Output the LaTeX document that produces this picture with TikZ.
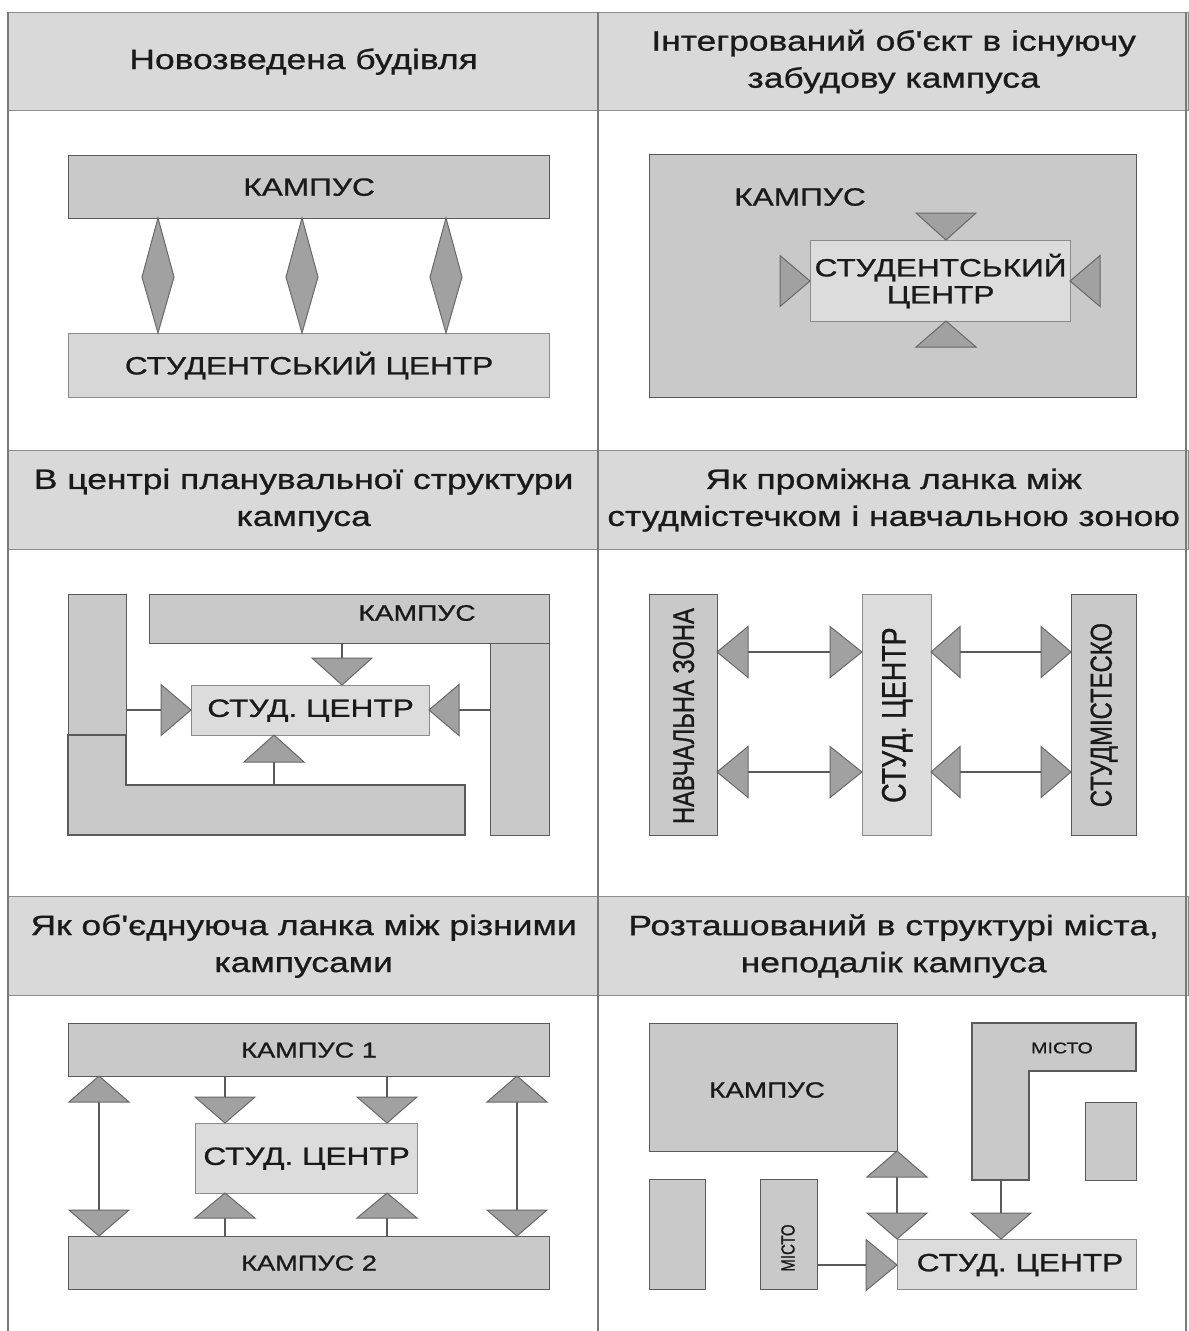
\documentclass[tikz,border=0pt]{standalone}
\usepackage{fontspec}
\setmainfont{Liberation Sans}[FakeStretch=1.265, FakeBold=0.9, Ligatures=TeXOff]
\newfontfamily\rotf{Liberation Sans}[FakeStretch=0.79, FakeBold=0.9]
\usetikzlibrary{calc}
\definecolor{hdrfill}{HTML}{D9D9D9}
\definecolor{hdrline}{HTML}{8C8C8C}
\definecolor{boxfill}{HTML}{C9C9C9}
\definecolor{lightfill}{HTML}{DCDCDC}
\definecolor{boxline}{HTML}{5A5A5A}
\definecolor{trifill}{HTML}{A1A1A1}
\definecolor{triline}{HTML}{686868}
\definecolor{gridline}{HTML}{7A7A7A}
\definecolor{txt}{HTML}{1A1A1A}
\newcommand\myTriV[3]{\draw[tri] (#1-30,#2) -- (#1+30,#2) -- (#1,#3) -- cycle;}
\newcommand\myTriH[3]{\draw[tri] (#2,#1-25.5) -- (#2,#1+25.5) -- (#3,#1) -- cycle;}
\begin{document}
\begin{tikzpicture}[x=1pt,y=-1pt,
  every node/.style={text=txt},
  hdrbox/.style={draw=hdrline, fill=hdrfill, line width=1.3pt, anchor=north west,
    minimum width=590pt, minimum height=98pt, inner sep=0pt, align=center,
    font=\fontsize{28}{37}\selectfont},
  bx/.style={draw=boxline, fill=boxfill, line width=1.2pt, anchor=north west, inner sep=0pt,
    font=\fontsize{25}{30}\selectfont, align=center},
  lbx/.style={bx, fill=lightfill, draw=boxline!70},
  tri/.style={draw=triline, fill=trifill, line width=1pt, line join=miter},
  conn/.style={draw=boxline, line width=1.2pt},
  lbl/.style={inner sep=0pt, font=\fontsize{25}{30}\selectfont, align=center},
  small/.style={inner sep=0pt, font=\fontsize{15.5}{18}\selectfont},
  rlbl/.style={inner sep=0pt, rotate=90}
]
\useasboundingbox (0,0) rectangle (1189,1331);
\fill[white] (0,0) rectangle (1189,1331);

% headers
\node[hdrbox] (h1) at (8,12) {Новозведена будівля};
\node[hdrbox] (h2) at (598,12) {Інтегрований об'єкт в існуючу\\забудову кампуса};
\node[hdrbox, minimum height=99pt] (h3) at (8,450) {В центрі планувальної структури\\кампуса};
\node[hdrbox, minimum height=99pt] (h4) at (598,450) {Як проміжна ланка між\\студмістечком і навчальною зоною};
\node[hdrbox, minimum height=99pt] (h5) at (8,896) {Як об'єднуюча ланка між різними\\кампусами};
\node[hdrbox, minimum height=99pt] (h6) at (598,896) {Розташований в структурі міста,\\неподалік кампуса};

% grid lines
\draw[gridline, line width=1.5pt] (8,12) -- (8,1331);
\draw[gridline, line width=1.5pt] (598,12) -- (598,1331);
\draw[gridline, line width=1.5pt] (1186,12) -- (1186,1331);

% ---- cell 1
\node[bx, minimum width=481pt, minimum height=63pt] (k1) at (68,155) {КАМПУС};
\node[lbx, fill=boxfill!75, minimum width=481pt, minimum height=64pt] (s1) at (68,333) {СТУДЕНТСЬКИЙ ЦЕНТР};
\foreach \x in {158,302,446}{
  \draw[tri] (\x,218) -- (\x+16,277) -- (\x,333) -- (\x-16,277) -- cycle;
}

% ---- cell 2
\node[bx, minimum width=487pt, minimum height=243pt] (k2) at (649,154) {};
\node[lbl] (k2t) at (800,197) {КАМПУС};
\node[lbx, minimum width=260pt, minimum height=81pt] (s2) at (810,240) {СТУДЕНТСЬКИЙ\\[-3pt]ЦЕНТР};
\myTriV{946}{213}{240}
\myTriV{946}{347}{321}
\myTriH{281}{780}{810}
\myTriH{281}{1100}{1070}

% ---- cell 3
\node[bx, minimum width=58pt, minimum height=141pt] (l3a) at (68,594) {};
\draw[draw=boxline, fill=boxfill, line width=1.2pt] (68,735) -- (126,735) -- (126,785) -- (465,785) -- (465,835) -- (68,835) -- cycle;
\coordinate (l3b) at (274,785);
\node[bx, minimum width=400pt, minimum height=49pt] (k3) at (149,594) {};
\node[lbl, font=\fontsize{22.3}{26}\selectfont] (k3t) at (417,613) {КАМПУС};
\node[bx, minimum width=59pt, minimum height=192pt] (r3) at (490,643) {};
\node[lbx, minimum width=238pt, minimum height=50pt] (s3) at (191,685) {СТУД. ЦЕНТР};
\draw[conn] (k3.south -| 342,0) -- (342,658);
\myTriV{342}{658}{685}
\draw[conn] (l3a.east |- 0,710) -- (161,710);
\myTriH{710}{161}{191}
\draw[conn] (r3.west |- 0,710) -- (459,710);
\myTriH{710}{459}{429}
\draw[conn] (l3b) -- (274,762);
\myTriV{274}{762}{735}

% ---- cell 4
\node[bx, minimum width=68pt, minimum height=241pt] (n4) at (649,594) {};
\node[rlbl, font=\rotf\fontsize{30}{34}\selectfont] at ([yshift=-1pt]n4.center) {НАВЧАЛЬНА ЗОНА};
\node[lbx, minimum width=69pt, minimum height=241pt] (c4) at (862,594) {};
\node[rlbl, font=\rotf\fontsize{34}{38}\selectfont] at (c4.center) {СТУД. ЦЕНТР};
\node[bx, minimum width=65pt, minimum height=241pt] (m4) at (1071,594) {};
\node[rlbl, font=\rotf\fontsize{30.2}{34}\selectfont] at (m4.center) {СТУДМІСТЕСКО};
\foreach \y in {652,772}{
  \draw[conn] (748,\y) -- (830,\y);
  \myTriH{\y}{748}{717}
  \myTriH{\y}{830}{862}
  \draw[conn] (960,\y) -- (1041,\y);
  \myTriH{\y}{960}{931}
  \myTriH{\y}{1041}{1071}
}

% ---- cell 5
\node[bx, minimum width=481pt, minimum height=53pt, font=\fontsize{21.5}{26}\selectfont] (k51) at (68,1023) {КАМПУС 1};
\node[bx, minimum width=481pt, minimum height=53pt, font=\fontsize{21.5}{26}\selectfont] (k52) at (68,1236) {КАМПУС 2};
\node[lbx, minimum width=222pt, minimum height=70pt] (s5) at (195,1123) {СТУД. ЦЕНТР};
\foreach \x in {99,517}{
  \draw[conn] (\x,1102) -- (\x,1210);
  \myTriV{\x}{1102}{1076}
  \myTriV{\x}{1210}{1236}
}
\foreach \x in {225,387}{
  \draw[conn] (\x,1076) -- (\x,1097);
  \myTriV{\x}{1097}{1123}
  \draw[conn] (\x,1218) -- (\x,1236);
  \myTriV{\x}{1218}{1193}
}

% ---- cell 6
\node[bx, minimum width=248pt, minimum height=128pt] (k6) at (649,1023) {};
\node[lbl, font=\fontsize{22}{26}\selectfont] at (767,1090) {КАМПУС};
\draw[draw=boxline, fill=boxfill, line width=1.2pt] (972,1023) -- (1136,1023) -- (1136,1071) -- (1029,1071) -- (1029,1180) -- (972,1180) -- cycle;
\node[small] (m6t) at (1062,1048) {МІСТО};
\node[bx, minimum width=51pt, minimum height=78pt] (r6) at (1085,1102) {};
\node[bx, minimum width=56pt, minimum height=110pt] (b6) at (649,1179) {};
\node[bx, minimum width=57pt, minimum height=110pt] (m6) at (760,1179) {};
\node[rlbl, font=\rotf\fontsize{19}{22}\selectfont] at (788,1248) {МІСТО};
\node[lbx, minimum width=239pt, minimum height=50pt] (s6) at (897,1239) {};
\node[lbl] at (1020,1265) {СТУД. ЦЕНТР};
\draw[conn] (897,1177) -- (897,1213);
\myTriV{897}{1177}{1151}
\myTriV{897}{1213}{1239}
\draw[conn] (1001,1180) -- (1001,1213);
\myTriV{1001}{1213}{1239}
\draw[conn] (m6.east |- 0,1265) -- (866,1265);
\myTriH{1265}{866}{897}
\end{tikzpicture}
\end{document}
